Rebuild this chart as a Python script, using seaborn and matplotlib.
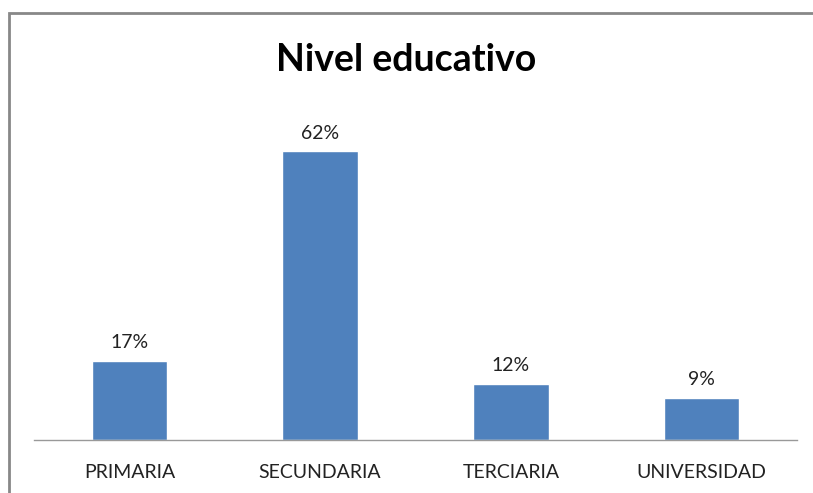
import matplotlib
matplotlib.use("Agg")
import matplotlib.pyplot as plt
import seaborn as sns
import pandas as pd
from matplotlib.patches import Rectangle

# data
niveles = ["PRIMARIA", "SECUNDARIA", "TERCIARIA", "UNIVERSIDAD"]
porcentajes = [17, 62, 12, 9]
etiquetas = ["17%", "62%", "12%", "9%"]

df = pd.DataFrame({"nivel": niveles, "pct": porcentajes})

sns.set_style("white")
plt.rcParams["font.family"] = ["Lato", "DejaVu Sans"]

fig = plt.figure(figsize=(8.13, 4.93), dpi=100)
ax = fig.add_axes([34 / 813, 53 / 493, 763 / 813, 326 / 493])

sns.barplot(data=df, x="nivel", y="pct", color="#4F81BD", width=0.395,
            saturation=1, ax=ax)

for i, (v, lab) in enumerate(zip(porcentajes, etiquetas)):
    ax.annotate(lab, (i, v), xytext=(0, 7), textcoords="offset points",
                ha="center", va="bottom", fontsize=14, color="#222222")

ax.set_ylim(0, 70)
ax.set_xlim(-0.5, 3.5)
ax.set_xlabel("")
ax.set_ylabel("")
ax.set_yticks([])
ax.tick_params(axis="x", length=0, pad=17, labelsize=14, labelcolor="#222222")
for s in ["top", "right", "left"]:
    ax.spines[s].set_visible(False)
ax.spines["bottom"].set_color("#999999")
ax.spines["bottom"].set_linewidth(1)

fig.text(0.5, 1 - 60 / 493, "Nivel educativo", ha="center", va="center",
         fontsize=27, fontweight="bold", color="black")

# outer border of the chart area
fig.patches.append(Rectangle((9 / 813, -0.1), 1.2, 1 - 13 / 493 + 0.1,
                             transform=fig.transFigure, fill=False,
                             edgecolor="#888888", linewidth=2))

fig.savefig("out.png", dpi=100)
